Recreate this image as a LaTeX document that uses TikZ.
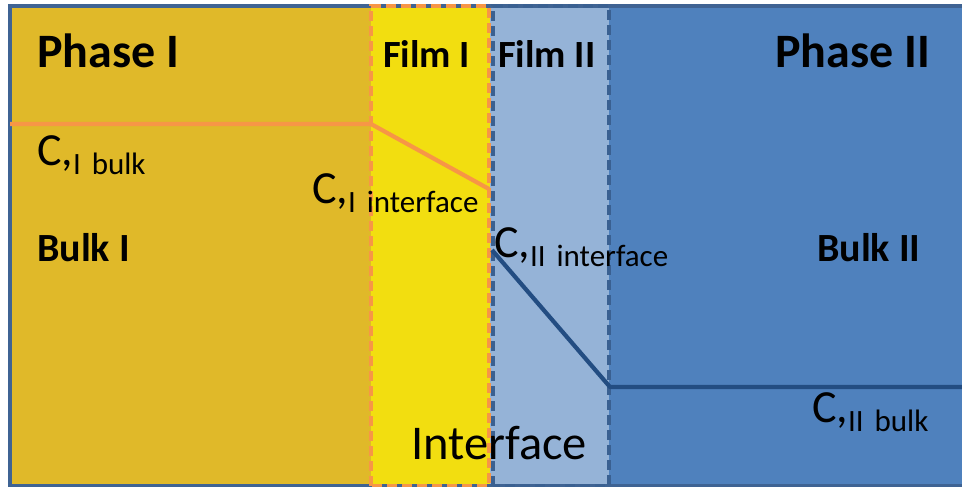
\documentclass[tikz,border=0pt]{standalone}
\usepackage{fontspec}
\setmainfont{Carlito}
\definecolor{phaseone}{HTML}{E0B929}
\definecolor{filmone}{HTML}{F2DE10}
\definecolor{filmtwo}{HTML}{95B3D7}
\definecolor{phasetwo}{HTML}{4F81BD}
\definecolor{frameblue}{HTML}{3F6393}
\definecolor{orangeline}{HTML}{F79646}
\definecolor{blueline}{HTML}{234D82}
\definecolor{dashblue}{HTML}{3A6091}
\newcommand{\fsz}[1]{\fontsize{#1}{#1}\selectfont}
\newcommand{\conc}[2]{C,\raisebox{-9.5pt}{\fsz{31}#1\hspace{11pt}#2}}
\tikzset{
  lbl/.style={inner sep=0pt, anchor=base west, text=black},
  title/.style={lbl, font=\fsz{48}\bfseries},
  film/.style={lbl, font=\fsz{38.5}\bfseries},
  bulk/.style={lbl, font=\fsz{40}\bfseries},
  conclbl/.style={lbl, font=\fsz{46}},
  profile/.style={line width=4.2pt, line join=round},
  filmedge/.style={line width=3.6pt, dash pattern=on 10pt off 5pt}
}
\begin{document}
\begin{tikzpicture}[x=1pt, y=-1pt]
\useasboundingbox (0,0) rectangle (962,487);
% phase regions
\fill[phaseone] (10,6) rectangle (371,486);
\fill[filmone] (371,6) rectangle (490,486);
\fill[filmtwo] (490,6) rectangle (609,486);
\fill[phasetwo] (609,6) rectangle (962,486);
% outer frame
\draw[frameblue, line width=3.6pt] (962,6) -- (10,6) -- (10,486) -- (962,486);
% film boundaries
\draw[filmedge, orangeline] (371,486) -- (371,6) -- (489,6) -- (489,486) -- cycle;
\draw[filmedge, dashblue] (493,486) -- (493,6) -- (609,6) -- (609,486) -- cycle;
% concentration profiles
\coordinate (bulkIleft) at (10,124);
\coordinate (bulkIfilm) at (371,124);
\coordinate (ifaceI) at (489,189);
\coordinate (ifaceII) at (492,250);
\coordinate (bulkIIfilm) at (610,387);
\coordinate (bulkIIright) at (962,387);
\draw[profile, orangeline] (bulkIleft) -- (bulkIfilm) -- (ifaceI);
\draw[profile, blueline] (ifaceII) -- (bulkIIfilm) -- (bulkIIright);
% labels
\node[title] (phI) at (37,68) {Phase I};
\node[title] (phII) at (775,68) {Phase II};
\node[film] (fI) at (383,67) {Film I};
\node[film] (fII) at (498,67) {Film II};
\node[bulk] (bI) at (37,261) {Bulk I};
\node[bulk] (bII) at (817,261) {Bulk II};
\node[conclbl] (cIb) at (37,165) {\conc{I}{bulk}};
\node[conclbl] (cIi) at (312,203) {\conc{I}{interface}};
\node[conclbl] (cIIi) at (494,257) {\conc{II}{interface}};
\node[conclbl] (cIIb) at (812,422) {\conc{II}{bulk}};
\node[lbl, font=\fsz{48.5}] (iface) at (411,459) {Interface};
\end{tikzpicture}
\end{document}
